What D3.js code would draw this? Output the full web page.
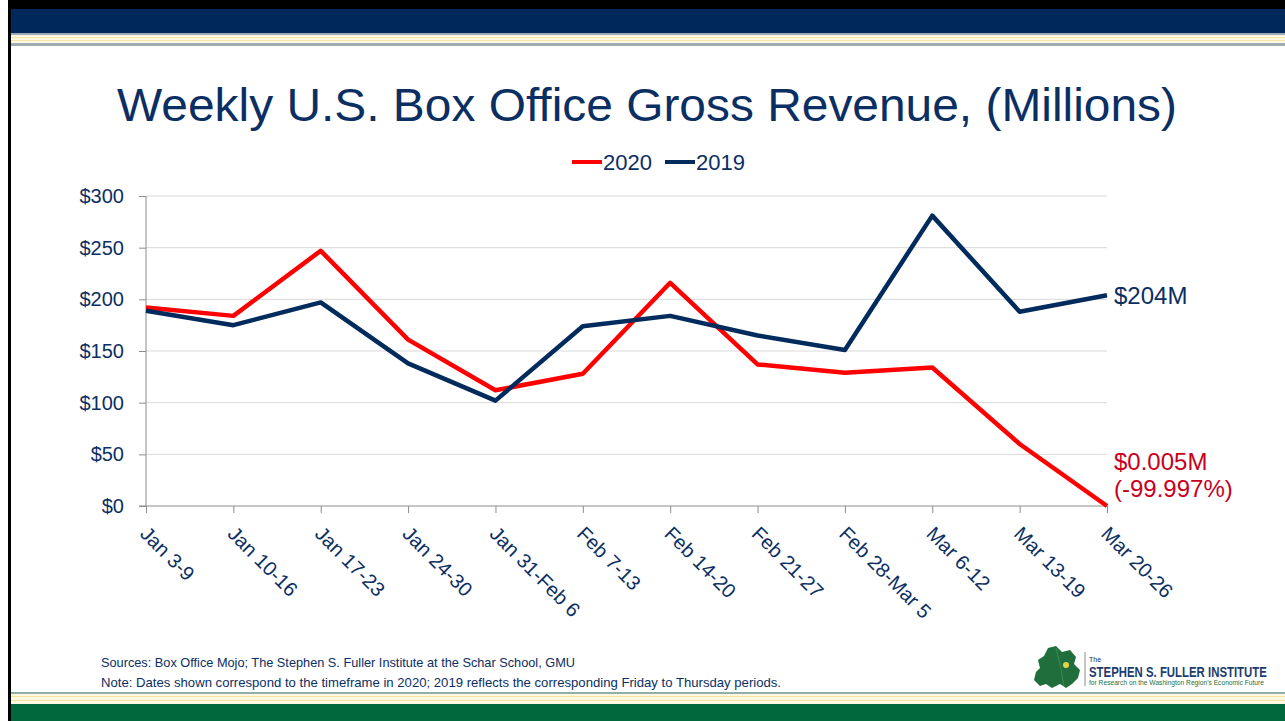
<!DOCTYPE html>
<html>
<head>
<meta charset="utf-8">
<script src="https://cdn.jsdelivr.net/npm/d3@7"></script>
<style>
  body { margin: 0; background: #fff; }
  text { font-family: "Liberation Sans", Arial, sans-serif; }
</style>
</head>
<body>
<script>
var w = 1285;
var h = 721;
var margin = {top: 196, right: 178, bottom: 215, left: 146};

var weeks = ["Jan 3-9", "Jan 10-16", "Jan 17-23", "Jan 24-30", "Jan 31-Feb 6", "Feb 7-13",
             "Feb 14-20", "Feb 21-27", "Feb 28-Mar 5", "Mar 6-12", "Mar 13-19", "Mar 20-26"];
var gross2020 = [192, 184, 247, 161, 112, 128, 216, 137, 129, 134, 60, 0.005];
var gross2019 = [189, 175, 197, 138, 102, 174, 184, 165, 151, 281, 188, 204];
var yTicks = [0, 50, 100, 150, 200, 250, 300];

var navy = "#002b5c";
var textNavy = "#0b2e63";
var red = "#ff0000";

var svg = d3.select("body")
      .append("svg")
      .attr("width", w)
      .attr("height", h);

svg.append("rect").attr("width", w).attr("height", h).attr("fill", "#fff");

// slide frame / header / footer bands
svg.append("rect").attr("x", 8).attr("y", 0).attr("width", w - 8).attr("height", 9).attr("fill", "#000");
svg.append("rect").attr("x", 11).attr("y", 9).attr("width", w - 11).attr("height", 24).attr("fill", "#00285a");
svg.append("rect").attr("x", 11).attr("y", 33).attr("width", w - 11).attr("height", 2).attr("fill", "#9aa9b5");
svg.append("rect").attr("x", 11).attr("y", 35).attr("width", w - 11).attr("height", 8).attr("fill", "#fdf8e1");
svg.append("rect").attr("x", 11).attr("y", 37).attr("width", w - 11).attr("height", 1).attr("fill", "#f3e6a6");
svg.append("rect").attr("x", 11).attr("y", 40).attr("width", w - 11).attr("height", 1).attr("fill", "#f3e6a6");
svg.append("rect").attr("x", 11).attr("y", 43).attr("width", w - 11).attr("height", 3).attr("fill", "#a1aab0");

svg.append("rect").attr("x", 11).attr("y", 692).attr("width", w - 11).attr("height", 2).attr("fill", "#8fb0a8");
svg.append("rect").attr("x", 11).attr("y", 694).attr("width", w - 11).attr("height", 10).attr("fill", "#fdf8e1");
svg.append("rect").attr("x", 11).attr("y", 696).attr("width", w - 11).attr("height", 1).attr("fill", "#f3e2a0");
svg.append("rect").attr("x", 11).attr("y", 700).attr("width", w - 11).attr("height", 1).attr("fill", "#f3e2a0");
svg.append("rect").attr("x", 11).attr("y", 704).attr("width", w - 11).attr("height", h - 704).attr("fill", "#00683c");
svg.append("rect").attr("x", 8).attr("y", 0).attr("width", 3).attr("height", h).attr("fill", "#000");

// title
svg.append("text")
   .attr("x", 117)
   .attr("y", 121)
   .attr("font-size", "47px")
   .attr("fill", textNavy)
   .attr("textLength", 1060)
   .attr("lengthAdjust", "spacingAndGlyphs")
   .text("Weekly U.S. Box Office Gross Revenue, (Millions)");

// scales
var xRange = d3.scalePoint().domain(weeks).range([margin.left, w - margin.right]);
var yRange = d3.scaleLinear().domain([0, 300]).range([h - margin.bottom, margin.top]);

// gridlines
svg.append("g")
   .selectAll("line")
   .data(yTicks.slice(1))
   .enter()
   .append("line")
   .attr("x1", margin.left)
   .attr("x2", w - margin.right)
   .attr("y1", function(d) { return yRange(d); })
   .attr("y2", function(d) { return yRange(d); })
   .attr("stroke", "#d9d9d9")
   .attr("stroke-width", 1);

// y axis
var yAxis = d3.axisLeft(yRange)
   .tickValues(yTicks)
   .tickSize(7)
   .tickPadding(15)
   .tickFormat(function(d) { return "$" + d; });

var yG = svg.append("g")
   .attr("transform", "translate(" + margin.left + ",0)")
   .call(yAxis);
yG.select(".domain").attr("stroke", "#8c8c8c").attr("d", "M0," + yRange(300) + "V" + yRange(0));
yG.selectAll(".tick line").attr("stroke", "#8c8c8c");
yG.selectAll(".tick text")
   .attr("font-size", "20px")
   .attr("font-family", "Liberation Sans, Arial, sans-serif")
   .attr("fill", textNavy);

// x axis
var xAxis = d3.axisBottom(xRange).tickSize(7).tickFormat("");
var xG = svg.append("g")
   .attr("transform", "translate(0," + yRange(0) + ")")
   .call(xAxis);
xG.select(".domain").attr("stroke", "#8c8c8c").attr("d", "M" + (margin.left - 7) + ",0H" + (w - margin.right));
xG.selectAll(".tick line").attr("stroke", "#8c8c8c");

svg.append("g")
   .selectAll("text")
   .data(weeks)
   .enter()
   .append("text")
   .attr("transform", function(d) {
     return "translate(" + (xRange(d) - 2) + "," + (yRange(0) + 24) + ") rotate(45)";
   })
   .attr("dy", "0.35em")
   .attr("font-size", "20px")
   .attr("fill", textNavy)
   .text(function(d) { return d; });

// lines
var line = d3.line()
   .x(function(d, i) { return xRange(weeks[i]); })
   .y(function(d) { return yRange(d); });

svg.append("path")
   .datum(gross2020)
   .attr("d", line)
   .attr("fill", "none")
   .attr("stroke", red)
   .attr("stroke-width", 4.5)
   .attr("stroke-linejoin", "round");

svg.append("path")
   .datum(gross2019)
   .attr("d", line)
   .attr("fill", "none")
   .attr("stroke", navy)
   .attr("stroke-width", 4.5)
   .attr("stroke-linejoin", "round");

// end labels
var last = weeks.length - 1;
svg.append("text")
   .attr("x", xRange(weeks[last]) + 7)
   .attr("y", yRange(gross2019[last]) + 9)
   .attr("font-size", "24px")
   .attr("fill", textNavy)
   .text("$" + gross2019[last] + "M");

svg.append("text")
   .attr("x", xRange(weeks[last]) + 7)
   .attr("y", yRange(0) - 36)
   .attr("font-size", "24px")
   .attr("fill", "#c8001e")
   .text("$" + gross2020[last] + "M");

svg.append("text")
   .attr("x", xRange(weeks[last]) + 7)
   .attr("y", yRange(0) - 9)
   .attr("font-size", "24px")
   .attr("fill", "#c8001e")
   .text("(-99.997%)");

// legend
var legend = [{name: "2020", color: red, x: 572}, {name: "2019", color: navy, x: 665}];
var lg = svg.append("g")
   .selectAll("g")
   .data(legend)
   .enter()
   .append("g");
lg.append("line")
   .attr("x1", function(d) { return d.x; })
   .attr("x2", function(d) { return d.x + 30; })
   .attr("y1", 162)
   .attr("y2", 162)
   .attr("stroke", function(d) { return d.color; })
   .attr("stroke-width", 4);
lg.append("text")
   .attr("x", function(d) { return d.x + 31; })
   .attr("y", 170)
   .attr("font-size", "22px")
   .attr("fill", textNavy)
   .text(function(d) { return d.name; });

// footnotes
svg.append("text")
   .attr("x", 101)
   .attr("y", 667)
   .attr("font-size", "13px")
   .attr("fill", textNavy)
   .attr("textLength", 474)
   .attr("lengthAdjust", "spacingAndGlyphs")
   .text("Sources: Box Office Mojo; The Stephen S. Fuller Institute at the Schar School, GMU");
svg.append("text")
   .attr("x", 101)
   .attr("y", 687)
   .attr("font-size", "13px")
   .attr("fill", textNavy)
   .attr("textLength", 680)
   .attr("lengthAdjust", "spacingAndGlyphs")
   .text("Note: Dates shown correspond to the timeframe in 2020; 2019 reflects the corresponding Friday to Thursday periods.");

// logo
var logo = svg.append("g");
logo.append("path")
   .attr("d", "M1048,648 L1056,646 L1062,652 L1070,650 L1076,657 L1074,664 L1080,670 L1078,678 " +
              "L1072,684 L1066,688 L1060,684 L1052,688 L1046,684 L1040,686 L1034,680 L1036,672 " +
              "L1040,668 L1038,660 L1044,656 Z")
   .attr("fill", "#1f6e3c");
logo.append("path")
   .attr("d", "M1056,648 L1060,664 L1064,686")
   .attr("fill", "none")
   .attr("stroke", "#3c8a55")
   .attr("stroke-width", 1);
logo.append("circle").attr("cx", 1066).attr("cy", 665).attr("r", 3).attr("fill", "#e5d44a");
logo.append("line")
   .attr("x1", 1085).attr("x2", 1085).attr("y1", 652).attr("y2", 686)
   .attr("stroke", "#8c8c8c").attr("stroke-width", 1);
logo.append("text")
   .attr("x", 1089).attr("y", 662)
   .attr("font-size", "7px").attr("fill", textNavy)
   .text("The");
logo.append("text")
   .attr("transform", "translate(1089,677) scale(0.76,1)")
   .attr("font-size", "15px").attr("font-weight", "bold").attr("fill", "#1d3c6e")
   .text("STEPHEN S. FULLER INSTITUTE");
logo.append("text")
   .attr("x", 1089).attr("y", 685)
   .attr("font-size", "6.5px").attr("fill", "#1f6e3c")
   .attr("textLength", 175).attr("lengthAdjust", "spacingAndGlyphs")
   .text("for Research on the Washington Region's Economic Future");
</script>
</body>
</html>
